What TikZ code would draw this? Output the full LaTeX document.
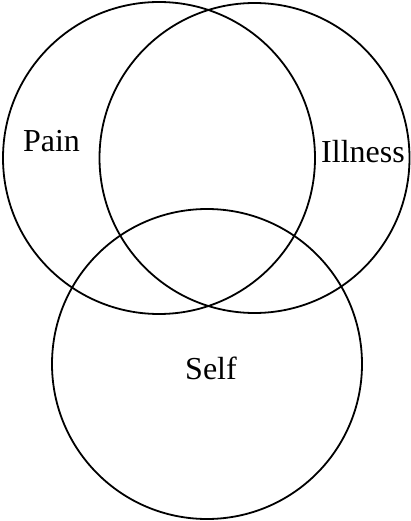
\documentclass[tikz,border=0pt]{standalone}
\usepackage{fontspec}
\setmainfont{Liberation Serif}
\begin{document}
\begin{tikzpicture}[x=1pt,y=-1pt]
\tikzstyle{every node}+=[inner sep=0pt, outer sep=0pt]
\tikzstyle{set}=[draw=black, circle, line width=1.8pt]
\tikzstyle{setname}=[anchor=base, font=\fontsize{32}{32}\selectfont]
\useasboundingbox (0,0) rectangle (410,521);

\node [set, minimum size=312pt] (pain) at (159,158) {};
\node [setname] (painname) at (51.5,152) {Pain};

\node [set, minimum size=310pt] (illness) at (254.5,158) {};
\node [setname] (illnessname) at (363,163) {Illness};

\node [set, minimum size=310pt] (self) at (207,364) {};
\node [setname] (selfname) at (211,379) {Self};
\end{tikzpicture}
\end{document}
